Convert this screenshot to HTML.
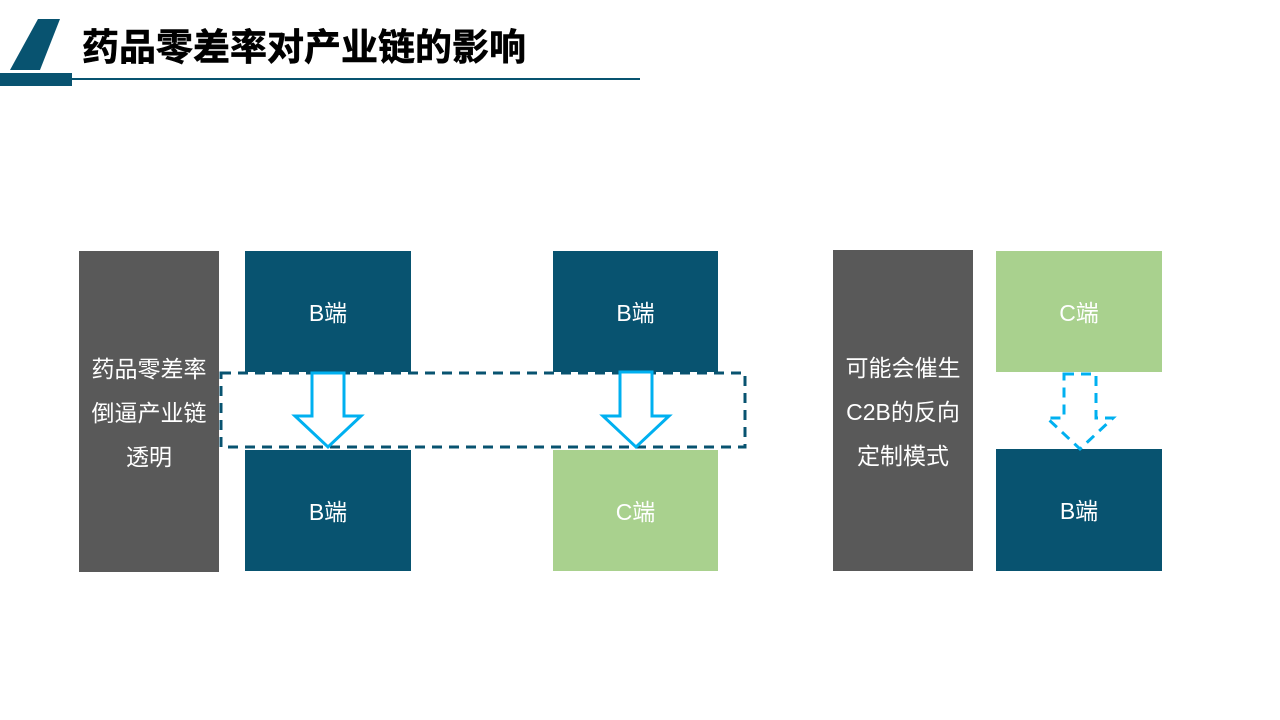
<!DOCTYPE html>
<html><head><meta charset="utf-8"><style>
body{margin:0;width:1280px;height:720px;background:#fff;position:relative;overflow:hidden;font-family:"Liberation Sans","Noto Sans CJK SC",sans-serif}
.b{position:absolute;display:flex;align-items:center;justify-content:center;color:#fff;font-size:23px;text-align:center;line-height:44px;padding-top:2px;box-sizing:border-box}
.n{background:#085370}.g{background:#a9d18e}.d{background:#595959}
</style></head><body>
<svg width="1280" height="720" style="position:absolute;left:0;top:0">
<polygon points="38,19 60,19 40,70 10,70" fill="#085370"/>
<rect x="0" y="73" width="72" height="13" fill="#085370"/>
<rect x="58" y="78" width="582" height="2" fill="#085370"/>
</svg>
<div style="position:absolute;left:82px;top:17px;font-size:37px;font-weight:bold;color:#000;-webkit-text-stroke:0.6px #000">药品零差率对产业链的影响</div>
<div class="b d" style="left:79px;top:251px;width:140px;height:321px">药品零差率<br>倒逼产业链<br>透明</div>
<div class="b n" style="left:245px;top:251px;width:166px;height:121px">B端</div>
<div class="b n" style="left:245px;top:450px;width:166px;height:121px">B端</div>
<div class="b n" style="left:553px;top:251px;width:165px;height:121px">B端</div>
<div class="b g" style="left:553px;top:450px;width:165px;height:121px">C端</div>
<div class="b d" style="left:833px;top:250px;width:140px;height:321px">可能会催生<br>C2B的反向<br>定制模式</div>
<div class="b g" style="left:996px;top:251px;width:166px;height:121px">C端</div>
<div class="b n" style="left:996px;top:449px;width:166px;height:122px">B端</div>
<svg width="1280" height="720" style="position:absolute;left:0;top:0">
<rect x="221" y="373" width="524" height="74" fill="none" stroke="#085370" stroke-width="3" stroke-dasharray="10,7"/>
<polygon points="312,373 344,373 344,416 361,416 328,447 295,416 312,416" fill="#fff" stroke="#00b0f0" stroke-width="3"/>
<polygon points="620,372 652,372 652,416 669,416 636,447 603,416 620,416" fill="#fff" stroke="#00b0f0" stroke-width="3"/>
<polygon points="1064,374 1096,374 1096,418 1113,418 1080,449 1047,418 1064,418" fill="none" stroke="#00b0f0" stroke-width="3" stroke-dasharray="10,7"/>
</svg>
</body></html>
